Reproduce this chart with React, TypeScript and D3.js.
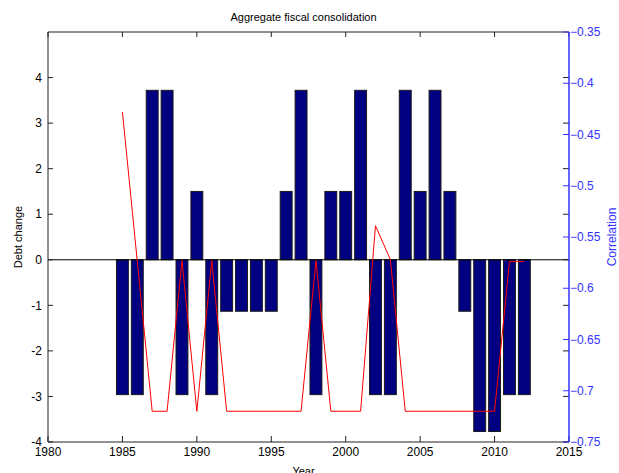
import * as d3 from "d3";

// Values
const years = [
  1985, 1986, 1987, 1988, 1989, 1990, 1991, 1992, 1993, 1994, 1995, 1996, 1997, 1998,
  1999, 2000, 2001, 2002, 2003, 2004, 2005, 2006, 2007, 2008, 2009, 2010, 2011, 2012,
];
const debtChange = [
  -2.96, -2.96, 3.72, 3.72, -2.96, 1.5, -2.96, -1.13, -1.13, -1.13, -1.13, 1.5, 3.72, -2.96,
  1.5, 1.5, 3.72, -2.96, -2.96, 3.72, 1.5, 3.72, 1.5, -1.13, -3.77, -3.77, -2.96, -2.96,
];
const correlation = [
  -0.428, -0.574, -0.72, -0.72, -0.573, -0.72, -0.573, -0.72, -0.72, -0.72, -0.72, -0.72, -0.72, -0.573,
  -0.72, -0.72, -0.72, -0.539, -0.572, -0.72, -0.72, -0.72, -0.72, -0.72, -0.72, -0.72, -0.574, -0.574,
];
const xTicks = [1980, 1985, 1990, 1995, 2000, 2005, 2010, 2015];
const leftTicks = [-4, -3, -2, -1, 0, 1, 2, 3, 4];
const rightTicks = [-0.75, -0.7, -0.65, -0.6, -0.55, -0.5, -0.45, -0.4, -0.35];

const W = 619;
const H = 473;
const margin = { top: 32, right: 50, bottom: 31, left: 48 };
const FONT = "'Liberation Sans', Arial, sans-serif";
const BLUE = "#3535ff";

const Chart = () => {
  const x = d3.scaleLinear().domain([1980, 2015]).range([margin.left, W - margin.right]);
  const y = d3.scaleLinear().domain([-4, 5]).range([H - margin.bottom, margin.top]);
  const y2 = d3.scaleLinear().domain([-0.75, -0.35]).range([H - margin.bottom, margin.top]);
  const barW = x(1980.8) - x(1980);
  const x0 = margin.left;
  const x1 = W - margin.right;
  const yTop = margin.top;
  const yBot = H - margin.bottom;
  const tick = 5;

  const line = d3
    .line<number>()
    .x((_, i) => x(years[i]))
    .y((d) => y2(d));

  return (
    <svg width={W} height={H} style={{ display: "block", fontFamily: FONT }}>
      <rect x={0} y={0} width={W} height={H} fill="#fff" />

      {/* bars */}
      {debtChange.map((d, i) => (
        <rect
          key={years[i]}
          x={x(years[i]) - barW / 2}
          y={Math.min(y(d), y(0))}
          width={barW}
          height={Math.abs(y(d) - y(0))}
          fill="#000080"
          stroke="#1a1a1a"
          strokeWidth={1}
        />
      ))}
      {/* baseline */}
      <line x1={x0} x2={x1} y1={y(0)} y2={y(0)} stroke="#000" strokeWidth={1} />

      {/* correlation line */}
      <path d={line(correlation) ?? ""} fill="none" stroke="#ff0000" strokeWidth={1} />

      {/* box */}
      <line x1={x0} x2={x1} y1={yTop} y2={yTop} stroke="#222" />
      <line x1={x0} x2={x1} y1={yBot} y2={yBot} stroke="#222" />
      <line x1={x0} x2={x0} y1={yTop} y2={yBot} stroke="#222" />

      {/* x ticks */}
      {xTicks.map((t) => (
        <g key={t}>
          <line x1={x(t)} x2={x(t)} y1={yBot} y2={yBot - tick - 1} stroke="#222" />
          <line x1={x(t)} x2={x(t)} y1={yTop} y2={yTop + tick} stroke="#222" />
          <text x={x(t)} y={yBot + 14} fontSize={12} textAnchor="middle" fill="#000">
            {t}
          </text>
        </g>
      ))}

      {/* left ticks */}
      {leftTicks.map((t) => (
        <g key={t}>
          <line x1={x0} x2={x0 + tick} y1={y(t)} y2={y(t)} stroke="#222" />
          <line x1={x1} x2={x1 - tick - 1} y1={y(t)} y2={y(t)} stroke="#222" />
          <text x={x0 - 6} y={y(t)} dy="0.35em" fontSize={12} textAnchor="end" fill="#000">
            {t}
          </text>
        </g>
      ))}

      {/* right axis */}
      <line x1={x1} x2={x1} y1={yTop} y2={yBot} stroke={BLUE} strokeWidth={1.5} />
      {rightTicks.map((t) => (
        <g key={t}>
          <line x1={x1} x2={x1 - tick - 1} y1={y2(t)} y2={y2(t)} stroke={BLUE} />
          <text x={x1 + 1} y={y2(t)} dy="0.35em" fontSize={12} textAnchor="start" fill={BLUE}>
            {d3.format("")(+t.toFixed(2))}
          </text>
        </g>
      ))}

      {/* titles */}
      <text x={(x0 + x1) / 2 - 5} y={21} fontSize={11} textAnchor="middle" fill="#000">
        Aggregate fiscal consolidation
      </text>
      <text x={(x0 + x1) / 2 - 5} y={475} fontSize={11} textAnchor="middle" fill="#000">
        Year
      </text>
      <text
        transform={`translate(22,${(yTop + yBot) / 2}) rotate(-90)`}
        fontSize={11}
        textAnchor="middle"
        fill="#000"
      >
        Debt change
      </text>
      <text
        transform={`translate(616,${(yTop + yBot) / 2}) rotate(-90)`}
        fontSize={12}
        textAnchor="middle"
        fill={BLUE}
      >
        Correlation
      </text>
    </svg>
  );
};

export default function App() {
  return (
    <div style={{ position: "absolute", left: 0, top: 0 }}>
      <Chart />
    </div>
  );
}
